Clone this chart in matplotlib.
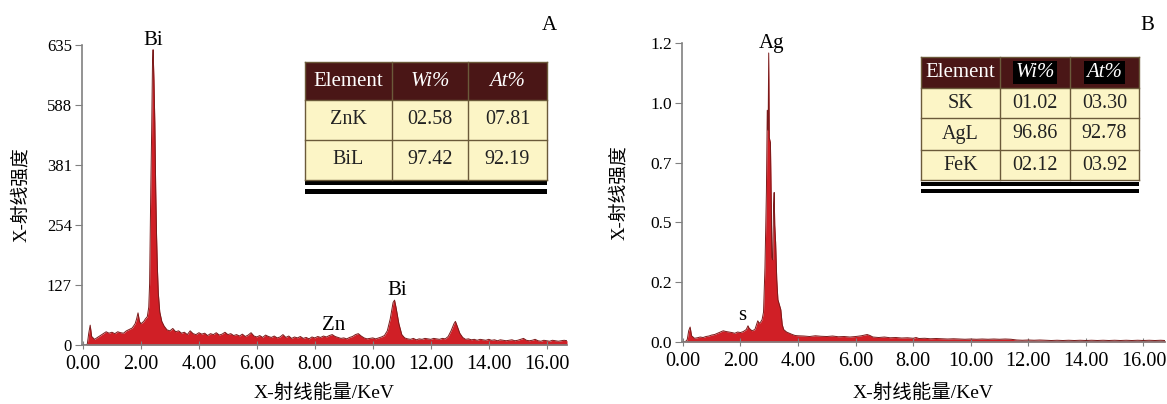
import matplotlib
matplotlib.use("Agg")
import matplotlib.pyplot as plt
from matplotlib.patches import Rectangle

SERIF = ['Liberation Serif', 'Noto Sans CJK SC']
plt.rcParams['font.family'] = SERIF

# ---------------- data ----------------
energy_a = [0.0, 0.1, 0.15, 0.2, 0.25, 0.3, 0.4, 0.5, 0.6, 0.7, 0.8, 0.9, 1.0, 1.1, 1.2, 1.3, 1.4, 1.5,
            1.6, 1.7, 1.8, 1.85, 1.9, 1.95, 2.0, 2.1, 2.15, 2.22, 2.27, 2.30, 2.34, 2.37, 2.40, 2.42,
            2.45, 2.48, 2.51, 2.54, 2.57, 2.60, 2.65, 2.72, 2.8, 2.9, 3.0, 3.1, 3.2, 3.3, 3.4, 3.5,
            3.6, 3.7, 3.8, 3.9, 4.0, 4.1, 4.2, 4.3, 4.4, 4.5, 4.6, 4.7, 4.8, 4.9, 5.0, 5.1, 5.2, 5.3,
            5.4, 5.5, 5.6, 5.7, 5.8, 5.9, 6.0, 6.1, 6.2, 6.3, 6.4, 6.5, 6.6, 6.7, 6.8, 6.9, 7.0, 7.1,
            7.2, 7.3, 7.4, 7.5, 7.6, 7.7, 7.8, 7.9, 8.0, 8.1, 8.2, 8.3, 8.4, 8.5, 8.6, 8.7, 8.8, 8.9,
            9.0, 9.1, 9.2, 9.3, 9.4, 9.5, 9.6, 9.7, 9.8, 9.9, 10.0, 10.1, 10.2, 10.3, 10.4, 10.5, 10.6,
            10.7, 10.75, 10.8, 10.9, 11.0, 11.1, 11.2, 11.3, 11.4, 11.5, 11.6, 11.7, 11.8, 11.9, 12.0,
            12.1, 12.2, 12.3, 12.4, 12.5, 12.6, 12.7, 12.8, 12.85, 12.9, 13.0, 13.1, 13.2, 13.3, 13.4,
            13.5, 13.6, 13.7, 13.8, 13.9, 14.0, 14.1, 14.2, 14.3, 14.4, 14.5, 14.6, 14.7, 14.8, 14.9,
            15.0, 15.1, 15.2, 15.3, 15.4, 15.5, 15.6, 15.7, 15.8, 15.9, 16.0, 16.1, 16.2, 16.3, 16.4,
            16.5, 16.6, 16.7]
counts_a = [0, 0, 2, 25, 42, 18, 12, 16, 20, 24, 28, 25, 27, 24, 28, 26, 25, 30,
            33, 36, 45, 55, 68, 50, 45, 50, 55, 60, 80, 130, 330, 450, 600, 625,
            560, 470, 330, 230, 160, 110, 70, 50, 40, 32, 30, 35, 28, 30, 25, 27,
            22, 30, 24, 22, 26, 23, 25, 20, 24, 22, 26, 21, 23, 27, 22, 24, 20, 22,
            19, 23, 18, 21, 26, 19, 17, 20, 16, 21, 18, 16, 19, 15, 17, 22, 16, 19,
            14, 17, 15, 18, 14, 16, 13, 17, 15, 18, 16, 19, 17, 20, 22, 18, 16, 14,
            15, 13, 16, 18, 22, 24, 19, 15, 13, 14, 15, 13, 15, 17, 20, 30, 55,
            90, 95, 80, 45, 22, 15, 13, 12, 14, 11, 13, 12, 14, 13, 12,
            14, 13, 12, 14, 13, 18, 30, 45, 50, 42, 25, 16, 12, 13, 11,
            12, 10, 12, 11, 10, 12, 10, 11, 9, 11, 10, 9, 10, 11, 9,
            10, 12, 14, 10, 9, 10, 12, 9, 8, 10, 9, 8, 10, 9, 8,
            9, 10, 9]

energy_b = [0.0, 0.1, 0.15, 0.2, 0.25, 0.3, 0.4, 0.5, 0.6, 0.7, 0.8, 0.9, 1.0, 1.1, 1.2, 1.3, 1.4,
            1.5, 1.6, 1.7, 1.8, 1.9, 2.0, 2.1, 2.2, 2.26, 2.3, 2.4, 2.5, 2.6, 2.65, 2.7, 2.75, 2.80,
            2.85, 2.90, 2.93, 2.96, 2.98, 3.0, 3.04, 3.07, 3.09, 3.12, 3.15, 3.17, 3.19, 3.22, 3.26,
            3.30, 3.35, 3.40, 3.45, 3.5, 3.6, 3.7, 3.8, 3.9, 4.0, 4.2, 4.4, 4.6, 4.8, 5.0, 5.2, 5.4,
            5.6, 5.8, 6.0, 6.2, 6.4, 6.5, 6.6, 6.8, 7.0, 7.2, 7.4, 7.6, 7.8, 8.0, 8.1, 8.2, 8.4, 8.6,
            8.8, 9.0, 9.2, 9.4, 9.6, 9.8, 10.0, 10.2, 10.4, 10.6, 10.8, 11.0, 11.2, 11.4, 11.6, 11.8,
            12.0, 12.2, 12.4, 12.6, 12.8, 13.0, 13.2, 13.4, 13.6, 13.8, 14.0, 14.2, 14.4, 14.6, 14.8,
            15.0, 15.2, 15.4, 15.6, 15.8, 16.0, 16.2, 16.4, 16.6, 16.75]
counts_b = [0.0, 0.003, 0.01, 0.045, 0.06, 0.025, 0.015, 0.017, 0.02, 0.018, 0.022, 0.024, 0.028,
            0.03, 0.035, 0.04, 0.045, 0.042, 0.04, 0.038, 0.035, 0.04, 0.038, 0.042, 0.05, 0.065,
            0.055, 0.045, 0.05, 0.085, 0.075, 0.08, 0.09, 0.12, 0.30, 0.60, 0.93, 0.85, 1.16, 0.82,
            0.80, 0.55, 0.34, 0.33, 0.55, 0.60, 0.47, 0.40, 0.25, 0.17, 0.15, 0.13, 0.07, 0.05,
            0.04, 0.035, 0.03, 0.026, 0.025, 0.024, 0.022, 0.025, 0.023, 0.022, 0.024, 0.021, 0.022,
            0.02, 0.022, 0.025, 0.03, 0.026, 0.02, 0.018, 0.02, 0.017, 0.018, 0.016, 0.017, 0.015,
            0.018, 0.014, 0.015, 0.013, 0.014, 0.013, 0.012, 0.013, 0.012, 0.011, 0.012, 0.011,
            0.012, 0.011, 0.012, 0.011, 0.012, 0.011, 0.008, 0.007, 0.008, 0.007, 0.008, 0.007,
            0.006, 0.007, 0.006, 0.007, 0.006, 0.007, 0.006, 0.007, 0.006, 0.007, 0.006, 0.007,
            0.006, 0.007, 0.006, 0.007, 0.006, 0.007, 0.006, 0.007, 0.006]

xticks = [0, 2, 4, 6, 8, 10, 12, 14, 16]
xtick_labels = ['0.00', '2.00', '4.00', '6.00', '8.00', '10.00', '12.00', '14.00', '16.00']
yticks_a = [0, 127, 254, 381, 508, 635]
ytick_labels_a = ['0', '127', '254', '381', '588', '635']
yticks_b = [0, 0.24, 0.48, 0.72, 0.96, 1.2]
ytick_labels_b = ['0.0', '0.2', '0.5', '0.7', '1.0', '1.2']

peaks_a = [('Bi', 2.42, 636), ('Zn', 8.65, 32), ('Bi', 10.85, 106)]
peaks_b = [('Ag', 3.07, 1.18), ('s', 2.06, 0.088)]

table_a_header = ['Element', 'Wi%', 'At%']
table_a_rows = [['ZnK', '02.58', '07.81'], ['BiL', '97.42', '92.19']]
table_b_header = ['Element', 'Wi%', 'At%']
table_b_rows = [['SK', '01.02', '03.30'], ['AgL', '96.86', '92.78'], ['FeK', '02.12', '03.92']]

xlabel = 'X-射线能量/KeV'
ylabel = 'X-射线强度'

# ---------------- figure ----------------
W, H = 1167, 404
fig = plt.figure(figsize=(W / 100, H / 100), dpi=100)

FILL = '#d01f26'
EDGE = '#7a1a1a'
SPINE = '#808080'


def px_axes(x0, x1, ytop, ybot):
    return fig.add_axes([x0 / W, 1 - ybot / H, (x1 - x0) / W, (ybot - ytop) / H])


def style(ax, xmax, ymax, yt, ytl, ytfs):
    ax.set_xlim(-0.05, xmax)
    ax.set_ylim(0, ymax)
    for s in ['top', 'right']:
        ax.spines[s].set_visible(False)
    for s in ['left', 'bottom']:
        ax.spines[s].set_color(SPINE)
        ax.spines[s].set_linewidth(1.2)
    ax.set_xticks(xticks)
    ax.set_xticklabels(xtick_labels, fontsize=14.5)
    ax.set_yticks(yt)
    ax.set_yticklabels(ytl, fontsize=ytfs)
    ax.tick_params(axis='x', direction='inout', length=6, color=SPINE, pad=4)
    ax.tick_params(axis='y', direction='out', length=5, color=SPINE, pad=2)
    ax.set_xlabel(xlabel, fontsize=14, family=SERIF)
    ax.set_ylabel(ylabel, fontsize=13.5, family=SERIF)
    ax.patch.set_alpha(0)


axA = px_axes(81.5, 567, 45, 345)
axA.fill_between(energy_a, counts_a, 0, color=FILL, lw=0)
axA.plot(energy_a, counts_a, color=EDGE, lw=0.7)
style(axA, 16.7, 635, yticks_a, ytick_labels_a, 12)
axA.xaxis.set_label_coords(0.5, -0.13)
axA.yaxis.set_label_coords(-0.106, 0.5)
for t, x, y in peaks_a:
    axA.text(x, y, t, ha='center', va='baseline', fontsize=15, clip_on=False)

axB = px_axes(681.5, 1165, 43, 342)
axB.fill_between(energy_b, counts_b, 0, color=FILL, lw=0)
axB.plot(energy_b, counts_b, color=EDGE, lw=0.7)
style(axB, 16.75, 1.2, yticks_b, ytick_labels_b, 12.5)
axB.xaxis.set_label_coords(0.5, -0.14)
axB.yaxis.set_label_coords(-0.111, 0.5)
for t, x, y in peaks_b:
    axB.text(x, y, t, ha='center', va='baseline', fontsize=15, clip_on=False)

fig.text(549 / W, 1 - 25 / H, 'A', ha='center', va='center', fontsize=15)
fig.text(1147 / W, 1 - 25 / H, 'B', ha='center', va='center', fontsize=15)

# ---------------- tables (pixel overlay) ----------------
ov = fig.add_axes([0, 0, 1, 1])
ov.set_xlim(0, W)
ov.set_ylim(H, 0)
ov.axis('off')

HEAD = '#4a1616'
ROW = '#fcf5c6'
GRID = '#6b5a3a'


def draw_table(cols, rows_y, header, rows, lines, fs, dark_boxes=False):
    ov.add_patch(Rectangle((cols[0], rows_y[0]), cols[-1] - cols[0], rows_y[1] - rows_y[0],
                           facecolor=HEAD, edgecolor='none'))
    for i in range(1, len(rows_y) - 1):
        ov.add_patch(Rectangle((cols[0], rows_y[i]), cols[-1] - cols[0], rows_y[i + 1] - rows_y[i],
                               facecolor=ROW, edgecolor='none'))
    for c in cols:
        ov.plot([c, c], [rows_y[0], rows_y[-1]], color=GRID, lw=1.0)
    for r in rows_y:
        ov.plot([cols[0], cols[-1]], [r, r], color=GRID, lw=1.0)
    for j, h in enumerate(header):
        cx = (cols[j] + cols[j + 1]) / 2
        cy = (rows_y[0] + rows_y[1]) / 2
        style_ = 'italic' if j > 0 else 'normal'
        bbox = dict(facecolor='black', edgecolor='none', pad=1.5) if (dark_boxes and j > 0) else None
        ov.text(cx, cy, h, ha='center', va='center', color='white', fontsize=fs + 0.5,
                fontstyle=style_, bbox=bbox)
    for i, row in enumerate(rows):
        for j, v in enumerate(row):
            cx = (cols[j] + cols[j + 1]) / 2
            cy = (rows_y[i + 1] + rows_y[i + 2]) / 2
            ov.text(cx, cy, v, ha='center', va='center', color='#222222', fontsize=fs)
    for (y0, y1) in lines:
        ov.add_patch(Rectangle((cols[0], y0), cols[-1] - cols[0], y1 - y0,
                               facecolor='black', edgecolor='none'))


draw_table([305, 392, 468, 547], [62, 100, 140, 180], table_a_header, table_a_rows,
           [(181, 184.5), (189, 194)], 14.5)
draw_table([921, 1000, 1070, 1139], [57, 88, 118, 150, 180], table_b_header, table_b_rows,
           [(182, 185.5), (188.5, 193)], 14.5, dark_boxes=True)

fig.savefig('out.png', dpi=100)
